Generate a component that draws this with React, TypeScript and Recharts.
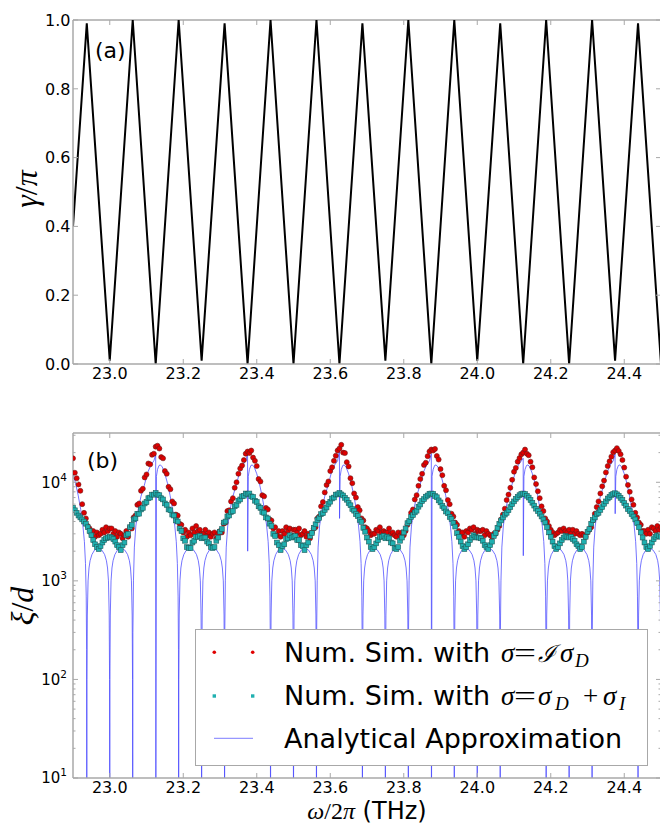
import React from "react";
import {
  LineChart,
  ComposedChart,
  Line,
  Scatter,
  XAxis,
  YAxis,
  ReferenceLine,
  Legend,
} from "recharts";

const FRAME = "#a8a8a8";
const SANS = "DejaVu Sans, sans-serif";
const MATH = "Liberation Serif, serif";
const RED = "#e00000";
const TEAL = "#20b0b0";
const BLUE = "#4646ff";

const CHART_W = 662;
const PLOT_RIGHT = 661;

const X_MIN = 22.9;
const X_MAX = 24.5;
const freqTicks = [23.0, 23.2, 23.4, 23.6, 23.8, 24.0, 24.2, 24.4];
const gammaTicks = [0, 0.2, 0.4, 0.6, 0.8, 1.0];
const XI_MIN = 10;
const XI_MAX = 31623;
const xiTicks = [
  10, 20, 30, 40, 50, 60, 70, 80, 90,
  100, 200, 300, 400, 500, 600, 700, 800, 900,
  1000, 2000, 3000, 4000, 5000, 6000, 7000, 8000, 9000,
  10000, 20000, 30000,
];

// panel (a): corners of the phase curve gamma/pi
const gammaFreq = [
  22.9, 22.9375, 23.0, 23.0625, 23.125, 23.1875, 23.25, 23.3125, 23.375,
  23.4375, 23.5, 23.5625, 23.625, 23.6875, 23.75, 23.8125, 23.875, 23.9375,
  24.0, 24.0625, 24.125, 24.1875, 24.25, 24.3125, 24.375, 24.4375, 24.5,
];
const gammaValue = [
  0.4, 0.99, 0.01, 1.0, 0.0, 1.0, 0.01, 0.99, 0.0,
  1.0, 0.0, 1.0, 0.0, 0.99, 0.01, 1.0, 0.0, 1.0,
  0.01, 0.99, 0.0, 1.0, 0.0, 1.0, 0.01, 0.99, 0.0,
];

// panel (b): simulated points, every 0.005 THz from 22.900, values in units of 1e3
const simStart = 22.9;
const simStep = 0.005;
const simRed = [
  // 22.900 - 23.000
  17.5, 12.5, 11, 9.5, 8.2, 6, 4.9, 4.3, 3.6, 3.4, 3.0,
  3.2, 2.8, 3.1, 2.9, 3.0, 3.3, 3.1, 3.5, 3.2, 3.4,
  // 23.005 - 23.250
  3.4, 3.0, 3.2, 2.8, 3.1, 3.0, 2.7, 2.9, 3.2, 2.8,
  3.5, 3.4, 4.4, 4.6, 5.9, 6.1, 8.2, 8.6, 11.2, 12.0,
  15.5, 15.2, 19, 19.5, 23, 23.5, 22, 18, 17.5, 13,
  12.2, 9, 8.5, 6.4, 6.1, 4.7, 4.6, 3.8, 3.7, 3.1,
  3.3, 2.8, 3.1, 2.9, 3.4, 3.1, 3.6, 3.2, 3.3, 3.0,
  // 23.255 - 23.500
  3.0, 3.3, 2.9, 3.1, 2.8, 3.0, 3.1, 2.7, 3.0, 3.2,
  3.1, 3.8, 3.9, 5.1, 5.2, 6.4, 6.9, 8.8, 10.0, 12.2,
  13.8, 14.8, 16.8, 19.5, 20.5, 19.8, 21, 17.8, 16.5, 14.6,
  10.8, 10.2, 7.4, 7.2, 5.5, 5.3, 4.2, 4.1, 3.4, 3.5,
  2.9, 3.2, 2.8, 3.2, 3.0, 3.5, 3.2, 3.4, 2.9, 3.3,
  // 23.505 - 23.750
  3.3, 3.1, 3.4, 2.9, 3.0, 3.2, 2.8, 3.0, 2.7, 3.1,
  3.4, 3.5, 4.3, 4.5, 5.7, 6.3, 7.9, 9.4, 10.2, 13.0,
  14.2, 16.5, 18.6, 21, 22, 24, 20, 19.8, 16, 14.5,
  11.0, 9.8, 7.7, 7.0, 5.6, 5.2, 4.3, 4.1, 3.5, 3.4,
  3.2, 2.9, 3.0, 3.0, 3.3, 3.2, 3.5, 3.1, 3.2, 3.1,
  // 23.755 - 24.000
  3.1, 3.4, 3.0, 3.1, 2.9, 2.8, 3.1, 2.9, 3.1, 2.9,
  3.2, 3.7, 4.0, 4.9, 5.3, 6.7, 7.4, 9.2, 10.8, 12.2,
  15.0, 15.8, 18.4, 20.5, 21.5, 21, 21.8, 18.5, 17, 13.6,
  11.8, 9.2, 8.3, 6.6, 6.0, 4.8, 4.5, 3.9, 3.7, 3.2,
  3.0, 3.1, 2.8, 3.2, 3.1, 3.4, 3.3, 3.5, 3.0, 3.3,
  // 24.005 - 24.250
  3.2, 3.2, 3.3, 2.9, 3.2, 3.0, 2.9, 2.8, 3.0, 3.0,
  3.3, 3.6, 4.2, 4.7, 5.4, 6.6, 7.5, 8.8, 10.6, 12.8,
  14.0, 16.2, 17.6, 19.2, 20, 21.5, 19.5, 18.8, 16.2, 14.2,
  11.2, 9.6, 8.1, 6.9, 5.7, 5.1, 4.3, 4.0, 3.6, 3.3,
  3.1, 2.9, 3.0, 3.1, 3.3, 3.2, 3.4, 3.2, 3.1, 3.3,
  // 24.255 - 24.500
  3.0, 3.3, 3.0, 3.2, 3.0, 2.9, 3.0, 2.9, 2.8, 3.1,
  3.3, 3.5, 4.1, 4.8, 5.6, 6.4, 7.7, 9.1, 10.4, 12.6,
  14.6, 16.3, 18.2, 20.2, 21, 22.2, 20.8, 19.2, 16.8, 14.1,
  11.4, 9.4, 8.0, 6.7, 5.9, 4.9, 4.4, 3.9, 3.7, 3.2,
  3.2, 3.0, 3.3, 3.0, 3.5, 3.4, 3.2, 3.6, 3.3, 3.5,
];
const simTeal = [
  // 22.900 - 23.000
  5.5, 5.2, 4.9, 4.6, 4.4, 4.2, 4.0, 3.8, 3.5, 3.2, 2.9,
  2.6, 2.35, 2.2, 2.1, 2.25, 2.45, 2.6, 2.7, 2.75, 2.8,
  // 23.005 - 23.250
  2.75, 2.65, 2.5, 2.3, 2.2, 2.05, 2.3, 2.45, 2.9, 3.0,
  3.5, 3.7, 4.2, 4.3, 4.8, 4.8, 5.3, 5.5, 6.1, 6.3,
  6.9, 7.0, 7.5, 7.5, 7.8, 7.5, 7.4, 6.9, 6.7, 6.1,
  5.9, 5.3, 5.2, 4.7, 4.6, 4.1, 4.0, 3.4, 3.2, 2.7,
  2.55, 2.2, 2.15, 2.15, 2.45, 2.55, 2.8, 2.8, 2.85, 2.7,
  // 23.255 - 23.500
  2.75, 2.75, 2.5, 2.4, 2.2, 2.15, 2.2, 2.55, 2.75, 3.15,
  3.35, 3.9, 4.0, 4.5, 4.6, 5.0, 5.1, 5.7, 5.9, 6.5,
  6.7, 7.2, 7.3, 7.7, 7.6, 7.7, 7.2, 7.1, 6.5, 6.3,
  5.7, 5.5, 5.0, 4.9, 4.4, 4.3, 3.8, 3.6, 3.0, 2.85,
  2.45, 2.3, 2.05, 2.25, 2.35, 2.65, 2.7, 2.9, 2.75, 2.8,
  // 23.505 - 23.750
  2.85, 2.6, 2.6, 2.3, 2.25, 2.05, 2.3, 2.45, 2.85, 3.05,
  3.45, 3.75, 4.15, 4.35, 4.75, 4.85, 5.25, 5.55, 6.05, 6.35,
  6.85, 7.0, 7.5, 7.55, 7.8, 7.55, 7.35, 6.95, 6.65, 6.15,
  5.85, 5.35, 5.15, 4.75, 4.55, 4.15, 3.95, 3.45, 3.15, 2.75,
  2.5, 2.2, 2.1, 2.2, 2.4, 2.6, 2.8, 2.8, 2.85, 2.7,
  // 23.755 - 24.000
  2.8, 2.7, 2.45, 2.4, 2.15, 2.1, 2.2, 2.55, 2.75, 3.1,
  3.4, 3.85, 4.05, 4.45, 4.65, 4.95, 5.15, 5.65, 5.95, 6.45,
  6.75, 7.15, 7.35, 7.65, 7.7, 7.65, 7.25, 7.05, 6.55, 6.25,
  5.75, 5.45, 5.05, 4.85, 4.45, 4.25, 3.85, 3.55, 3.05, 2.8,
  2.5, 2.25, 2.1, 2.2, 2.35, 2.6, 2.75, 2.9, 2.8, 2.75,
  // 24.005 - 24.250
  2.75, 2.7, 2.55, 2.3, 2.2, 2.1, 2.3, 2.5, 2.85, 3.05,
  3.45, 3.8, 4.1, 4.4, 4.7, 4.9, 5.2, 5.6, 6.0, 6.4,
  6.8, 7.1, 7.4, 7.6, 7.7, 7.6, 7.3, 7.0, 6.6, 6.2,
  5.8, 5.4, 5.1, 4.8, 4.5, 4.2, 3.9, 3.5, 3.1, 2.8,
  2.5, 2.25, 2.1, 2.2, 2.4, 2.6, 2.75, 2.85, 2.8, 2.75,
  // 24.255 - 24.500
  2.8, 2.65, 2.55, 2.35, 2.25, 2.1, 2.2, 2.5, 2.8, 3.15,
  3.35, 3.8, 4.15, 4.4, 4.75, 4.9, 5.25, 5.6, 6.05, 6.4,
  6.85, 7.1, 7.45, 7.6, 7.75, 7.55, 7.3, 6.95, 6.6, 6.15,
  5.8, 5.35, 5.1, 4.75, 4.5, 4.2, 3.85, 3.5, 3.1, 2.75,
  2.45, 2.2, 2.1, 2.25, 2.45, 2.65, 2.8, 2.9, 2.85, 2.8,
];

// panel (b): analytical curve, read as a side lobe between two zeros
const sideLobeOffsets = [0, 0.0005, 0.0015, 0.0035, 0.006, 0.009, 0.014, 0.021, 0.031, 0.041, 0.0485, 0.0535, 0.0565, 0.059, 0.061, 0.062];
const sideLobeValues = [1, 100, 450, 1000, 1350, 1600, 1850, 2050, 2150, 2050, 1850, 1600, 1350, 1000, 450, 100];
const sideLobeStarts = [22.9375, 23.0, 23.1875, 23.25, 23.4375, 23.5, 23.6875, 23.75, 23.9375, 24.0, 24.1875, 24.25, 24.4375];
// ... and a main lobe split at each resonance
const riseOffsets = [-0.0625, -0.062, -0.0605, -0.058, -0.054, -0.048, -0.04, -0.031, -0.022, -0.013, -0.005];
const riseValues = [1, 300, 1000, 2200, 3600, 5200, 7200, 9300, 12500, 15000, 16500];
const fallOffsets = [0.002, 0.005, 0.009, 0.013, 0.018, 0.025, 0.032, 0.039, 0.046, 0.052, 0.056, 0.059, 0.061, 0.062];
const fallValues = [11500, 13500, 14800, 15000, 14300, 12200, 9800, 7400, 5300, 3600, 2500, 1500, 700, 200];
const resonances = [22.875, 23.125, 23.375, 23.625, 23.875, 24.125, 24.375];
const resonancePeaks = [19000, 19000, 19500, 21000, 19500, 17500, 19500];
const resonanceFloors = [1, 1, 2000, 4300, 1, 1800, 4800];

const gammaData = gammaFreq.map((x, i) => ({ x, y: gammaValue[i] }));
const simX = (i: number) => +(simStart + i * simStep).toFixed(3);
const redData = simRed.map((v, i) => ({ x: simX(i), y: v * 1000 }));
const tealData = simTeal.map((v, i) => ({ x: simX(i), y: v * 1000 }));

const analytic: { x: number; y: number }[] = [];
resonances.forEach((c, k) => {
  riseOffsets.forEach((o, i) => analytic.push({ x: c + o, y: riseValues[i] }));
  analytic.push({ x: c, y: resonancePeaks[k] });
  analytic.push({ x: c + 0.0003, y: resonanceFloors[k] });
  fallOffsets.forEach((o, i) => analytic.push({ x: c + o, y: fallValues[i] }));
});
sideLobeStarts.forEach((s) => {
  sideLobeOffsets.forEach((o, i) => analytic.push({ x: s + o, y: sideLobeValues[i] }));
});
analytic.push({ x: X_MAX, y: 1 });
analytic.sort((a, b) => a.x - b.x);

const xTick = (plotTop: number) => (props: any) => {
  const { x, y, payload } = props;
  return (
    <g>
      <line x1={x} x2={x} y1={y} y2={y - 5} stroke={FRAME} />
      <line x1={x} x2={x} y1={plotTop} y2={plotTop + 5} stroke={FRAME} />
      <text x={x} y={y + 15} textAnchor="middle" fontSize={16} fontFamily={SANS} fill="#000">
        {Number(payload.value).toFixed(1)}
      </text>
    </g>
  );
};

const gammaTick = (props: any) => {
  const { x, y, payload } = props;
  return (
    <g>
      <line x1={x} x2={x + 5} y1={y} y2={y} stroke={FRAME} />
      <line x1={PLOT_RIGHT - 5} x2={PLOT_RIGHT} y1={y} y2={y} stroke={FRAME} />
      <text x={x - 2.5} y={y} dy="0.36em" textAnchor="end" fontSize={16} fontFamily={SANS} fill="#000">
        {Number(payload.value).toFixed(1)}
      </text>
    </g>
  );
};

const xiTick = (props: any) => {
  const { x, y, payload } = props;
  const v = Number(payload.value);
  const exp = Math.round(Math.log10(v));
  const major = Math.abs(v - Math.pow(10, exp)) < 1e-6;
  const len = major ? 5 : 2.5;
  return (
    <g>
      <line x1={x} x2={x + len} y1={y} y2={y} stroke={FRAME} />
      <line x1={PLOT_RIGHT - len} x2={PLOT_RIGHT} y1={y} y2={y} stroke={FRAME} />
      {major && (
        <text x={x - 6} y={y} dy="0.36em" textAnchor="end" fontSize={15} fontFamily={SANS} fill="#000">
          10
          <tspan dy={-7} fontSize={10.5}>
            {exp}
          </tspan>
        </text>
      )}
    </g>
  );
};

const RedDot = (p: any) => (
  <circle cx={p.cx} cy={p.cy} r={2.5} fill={RED} stroke="#6a1a1a" strokeWidth={0.6} />
);
const TealSquare = (p: any) => (
  <rect x={p.cx - 2.4} y={p.cy - 2.4} width={4.8} height={4.8} fill={TEAL} stroke="#1d5a5a" strokeWidth={0.6} />
);

function LegendBox() {
  const txt = { fontFamily: SANS, fontSize: 27, fill: "#000" };
  const m = { fontFamily: MATH, fontSize: 27, fontStyle: "italic" as const, fill: "#000" };
  const sub = { fontFamily: MATH, fontSize: 19, fontStyle: "italic" as const, fill: "#000" };
  return (
    <svg width={453} height={137} style={{ display: "block" }}>
      <rect x={0.5} y={0.5} width={452} height={136} fill="#fff" stroke={FRAME} />
      <circle cx={19.3} cy={23.3} r={1.8} fill={RED} />
      <circle cx={57.7} cy={23.3} r={1.8} fill={RED} />
      <rect x={17.6} y={65.3} width={3.4} height={3.4} fill={TEAL} />
      <rect x={56} y={65.3} width={3.4} height={3.4} fill={TEAL} />
      <line x1={19} x2={58} y1={109.3} y2={109.3} stroke={BLUE} strokeOpacity={0.7} />

      <text x={89} y={33} {...txt}>Num. Sim. with</text>
      <text x={306} y={33} {...m}>σ</text>
      <text x={319} y={33} {...m} fontStyle="normal" textLength={22} lengthAdjust="spacingAndGlyphs">=</text>
      <text x={343} y={33} {...m} fontFamily="DejaVu Serif" fontSize={24}>ℐ</text>
      <text x={365} y={33} {...m}>σ</text>
      <text x={380} y={38} {...sub}>D</text>

      <text x={89} y={75.5} {...txt}>Num. Sim. with</text>
      <text x={306} y={75.5} {...m}>σ</text>
      <text x={319} y={75.5} {...m} fontStyle="normal" textLength={22} lengthAdjust="spacingAndGlyphs">=</text>
      <text x={343} y={75.5} {...m}>σ</text>
      <text x={360} y={80.5} {...sub}>D</text>
      <text x={388} y={75.5} {...m} fontStyle="normal">+</text>
      <text x={408} y={75.5} {...m}>σ</text>
      <text x={424} y={80.5} {...sub}>I</text>

      <text x={89} y={119} {...txt}>Analytical Approximation</text>
    </svg>
  );
}

export default function App() {
  return (
    <div style={{ position: "absolute", left: 0, top: 0, width: 660, height: 826, overflow: "hidden", background: "#fff" }}>
      <div style={{ position: "absolute", left: 0, top: 0 }}>
        <LineChart width={CHART_W} height={400} margin={{ top: 20, right: 1, bottom: 0, left: 0 }}>
          <XAxis
            xAxisId="f"
            type="number"
            dataKey="x"
            domain={[X_MIN, X_MAX]}
            allowDataOverflow
            ticks={freqTicks}
            interval={0}
            height={36}
            tickSize={0}
            tickMargin={0}
            tickLine={false}
            axisLine={{ stroke: FRAME, strokeWidth: 1.5 }}
            tick={xTick(20)}
          />
          <YAxis
            yAxisId="g"
            type="number"
            domain={[0, 1]}
            ticks={gammaTicks}
            interval={0}
            width={73}
            tickSize={0}
            tickMargin={0}
            tickLine={false}
            axisLine={{ stroke: FRAME, strokeWidth: 1.5 }}
            tick={gammaTick}
          />
          <ReferenceLine xAxisId="f" yAxisId="g" y={1} stroke={FRAME} strokeWidth={1.5} />
          <ReferenceLine xAxisId="f" yAxisId="g" x={X_MAX} stroke={FRAME} strokeWidth={1.5} />
          <Line
            xAxisId="f"
            yAxisId="g"
            data={gammaData}
            dataKey="y"
            type="linear"
            stroke="#000"
            strokeWidth={2}
            dot={false}
            isAnimationActive={false}
          />
        </LineChart>
      </div>

      <div style={{ position: "absolute", left: 0, top: 400 }}>
        <ComposedChart width={CHART_W} height={426} margin={{ top: 33, right: 1, bottom: 0, left: 0 }}>
          <XAxis
            xAxisId="f"
            type="number"
            dataKey="x"
            domain={[X_MIN, X_MAX]}
            allowDataOverflow
            ticks={freqTicks}
            interval={0}
            height={48}
            tickSize={0}
            tickMargin={0}
            tickLine={false}
            axisLine={{ stroke: FRAME, strokeWidth: 1.5 }}
            tick={xTick(33)}
          />
          <YAxis
            yAxisId="xi"
            type="number"
            dataKey="y"
            scale="log"
            domain={[XI_MIN, XI_MAX]}
            allowDataOverflow
            ticks={xiTicks}
            interval={0}
            width={73}
            tickSize={0}
            tickMargin={0}
            tickLine={false}
            axisLine={{ stroke: FRAME, strokeWidth: 1.5 }}
            tick={xiTick}
          />
          <ReferenceLine xAxisId="f" yAxisId="xi" y={XI_MAX} stroke={FRAME} strokeWidth={1.5} />
          <ReferenceLine xAxisId="f" yAxisId="xi" x={X_MAX} stroke={FRAME} strokeWidth={1.5} />
          <Scatter
            xAxisId="f"
            yAxisId="xi"
            name="red"
            data={redData}
            dataKey="y"
            shape={RedDot}
            isAnimationActive={false}
          />
          <Scatter
            xAxisId="f"
            yAxisId="xi"
            name="teal"
            data={tealData}
            dataKey="y"
            shape={TealSquare}
            isAnimationActive={false}
          />
          <Line
            xAxisId="f"
            yAxisId="xi"
            data={analytic}
            dataKey="y"
            type="linear"
            stroke={BLUE}
            strokeOpacity={0.75}
            strokeWidth={1}
            dot={false}
            isAnimationActive={false}
          />
          <Legend
            layout="horizontal"
            verticalAlign="middle"
            align="center"
            wrapperStyle={{ left: 195, top: 229, width: 453, height: 137 }}
            content={() => <LegendBox />}
          />
        </ComposedChart>
      </div>

      <svg width={660} height={826} style={{ position: "absolute", left: 0, top: 0, pointerEvents: "none" }}>
        <text x={95} y={58} fontFamily={SANS} fontSize={22} fill="#000">(a)</text>
        <text x={87} y={468} fontFamily={SANS} fontSize={22} fill="#000">(b)</text>
        <text transform="translate(37,189) rotate(-90)" textAnchor="middle" fontFamily={MATH} fontSize={32} fill="#000">
          <tspan fontStyle="italic">γ</tspan>
          <tspan>/</tspan>
          <tspan fontStyle="italic">π</tspan>
        </text>
        <text transform="translate(33,606) rotate(-90)" textAnchor="middle" fontFamily={MATH} fontSize={32} fill="#000">
          <tspan fontStyle="italic">ξ</tspan>
          <tspan>/</tspan>
          <tspan fontStyle="italic">d</tspan>
        </text>
        <text x={367} y={819} textAnchor="middle" fontSize={24} fill="#000">
          <tspan fontFamily={MATH} fontStyle="italic">ω</tspan>
          <tspan fontFamily={MATH}>/2</tspan>
          <tspan fontFamily={MATH} fontStyle="italic">π</tspan>
          <tspan fontFamily={SANS}> (THz)</tspan>
        </text>
      </svg>
    </div>
  );
}
